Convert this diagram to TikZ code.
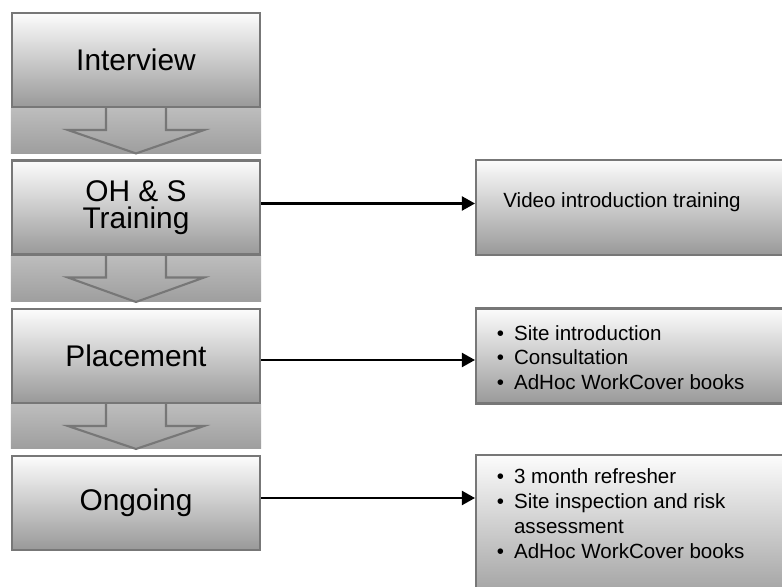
\documentclass[tikz,border=0pt]{standalone}
\usepackage{fontspec}
\setmainfont{Liberation Sans}
\usepackage{xcolor}
\usepackage{tikz}
\usetikzlibrary{arrows.meta,positioning,calc,backgrounds}

\definecolor{boxtop}{HTML}{FCFCFC}
\definecolor{boxbot}{HTML}{999999}
\definecolor{bandtop}{HTML}{BDBDBD}
\definecolor{bandbot}{HTML}{9E9E9E}
\definecolor{rimgray}{HTML}{777777}

\tikzset{
  stage/.style={draw=rimgray,line width=1.2pt,top color=boxtop,bottom color=boxbot,
    minimum width=4.96cm,minimum height=1.88cm,inner sep=0pt,align=center,
    font=\fontsize{17}{15.5}\selectfont},
  note/.style={draw=rimgray,line width=1.2pt,top color=boxtop,bottom color=boxbot,
    minimum width=6.5cm,minimum height=1.9cm,anchor=west,inner sep=0pt},
  notetext/.style={anchor=west,inner sep=0pt,align=left,font=\fontsize{11.7}{14.2}\selectfont},
  link/.style={line width=1.35pt,-{Triangle[length=7.5pt,width=8pt]}},
  blockarrow/.style={draw=rimgray,line width=1.2pt}
}

\begin{document}
\begin{tikzpicture}[x=0.02cm,y=0.02cm]
\useasboundingbox (0,0) rectangle (782,586);
\clip (0,0) rectangle (782,586);

% stages on the left
\node[stage] (intv) at (136,526) {Interview};
\node[stage] (ohs) at (136,378.5) {OH \& S\\Training};
\node[stage] (plc) at (136,230) {Placement};
\node[stage] (ong) at (136,83) {Ongoing};

% detail boxes on the right
\node[note] (vid) at (475,378.5) {};
\node[note] (plcn) at (475,230) {};
\node[note,minimum height=3.1cm] (ongn) at (475,53.5) {};

\node[notetext] (vidtxt) at (503,384) {Video introduction training};
\node[notetext] (plctxt) at (496.5,226) {\begin{tabular}{@{}l@{\hspace{5.7pt}}l@{}}
\textbullet & Site introduction\\
\textbullet & Consultation\\
\textbullet & AdHoc WorkCover books
\end{tabular}};
\node[notetext] (ongtxt) at (496.5,70) {\begin{tabular}{@{}l@{\hspace{5.7pt}}l@{}}
\textbullet & 3 month refresher\\
\textbullet & Site inspection and risk\\
 & assessment\\
\textbullet & AdHoc WorkCover books
\end{tabular}};

% block arrows between the stages
\begin{scope}[on background layer]
\foreach \a/\b in {intv/ohs,ohs/plc,plc/ong}
  \shade[top color=bandtop,bottom color=bandbot] (\a.south west) rectangle ($(\b.north east)+(0,6)$);
\end{scope}
\foreach \a/\b in {intv/ohs,ohs/plc,plc/ong}
  \draw[blockarrow] ($(\a.south)+(-30,0)$) -- ++(0,-22) -- ++(-38,0)
    -- ($(\b.north)+(0,6)$) -- ($(\a.south)+(68,-22)$) -- ++(-38,0) -- ++(0,22);

% links
\draw[link] ([yshift=0.08cm]ohs.east) -- ([yshift=0.08cm]ohs.east -| vid.west);
\draw[link] ([yshift=-0.08cm]plc.east) -- ([yshift=-0.08cm]plc.east -| plcn.west);
\draw[link] ([yshift=0.1cm]ong.east) -- ([yshift=0.1cm]ong.east -| ongn.west);
\end{tikzpicture}
\end{document}
